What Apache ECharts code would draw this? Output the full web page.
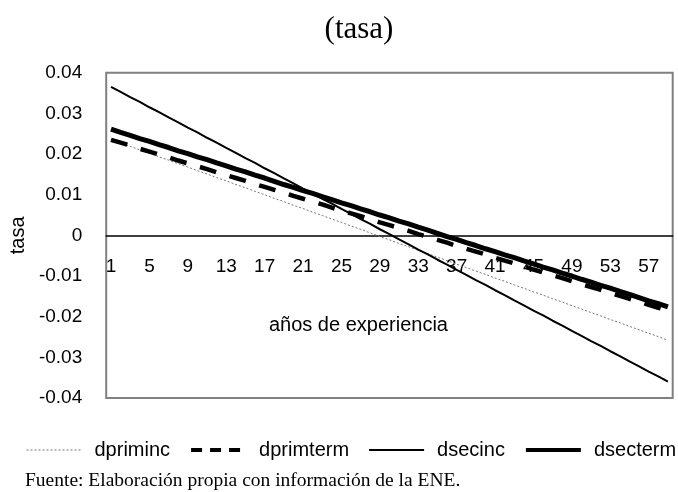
<!DOCTYPE html>
<html>
<head>
<meta charset="utf-8">
<script src="https://cdn.jsdelivr.net/npm/echarts@6/dist/echarts.min.js"></script>
<style>html,body{margin:0;padding:0;background:#fff}#c{width:678px;height:492px}</style>
</head>
<body>
<div id="c"></div>
<script>
const categories = [1,2,3,4,5,6,7,8,9,10,11,12,13,14,15,16,17,18,19,20,21,22,23,24,25,26,27,28,29,30,31,32,33,34,35,36,37,38,39,40,41,42,43,44,45,46,47,48,49,50,51,52,53,54,55,56,57,58,59];
const dpriminc = [0.0236,0.0227,0.0219,0.0210,0.0202,0.0193,0.0185,0.0176,0.0168,0.0159,0.0151,0.0142,0.0134,0.0125,0.0117,0.0108,0.0100,0.0091,0.0083,0.0074,0.0066,0.0057,0.0049,0.0040,0.0032,0.0023,0.0015,0.0006,-0.0003,-0.0011,-0.0020,-0.0028,-0.0037,-0.0045,-0.0054,-0.0062,-0.0071,-0.0079,-0.0088,-0.0096,-0.0105,-0.0113,-0.0122,-0.0130,-0.0139,-0.0147,-0.0156,-0.0164,-0.0173,-0.0181,-0.0190,-0.0198,-0.0207,-0.0215,-0.0224,-0.0232,-0.0241,-0.0249,-0.0258];
const dprimterm = [0.0235,0.0228,0.0221,0.0213,0.0206,0.0199,0.0192,0.0184,0.0177,0.0170,0.0163,0.0155,0.0148,0.0141,0.0134,0.0126,0.0119,0.0112,0.0105,0.0097,0.0090,0.0083,0.0076,0.0068,0.0061,0.0054,0.0047,0.0040,0.0032,0.0025,0.0018,0.0011,0.0003,-0.0004,-0.0011,-0.0018,-0.0026,-0.0033,-0.0040,-0.0047,-0.0055,-0.0062,-0.0069,-0.0076,-0.0084,-0.0091,-0.0098,-0.0105,-0.0113,-0.0120,-0.0127,-0.0134,-0.0142,-0.0149,-0.0156,-0.0163,-0.0171,-0.0178,-0.0185];
const dsecinc = [0.0365,0.0353,0.0340,0.0328,0.0315,0.0303,0.0290,0.0278,0.0265,0.0253,0.0240,0.0228,0.0215,0.0203,0.0190,0.0178,0.0165,0.0153,0.0140,0.0128,0.0115,0.0103,0.0090,0.0078,0.0065,0.0053,0.0040,0.0028,0.0015,0.0003,-0.0010,-0.0022,-0.0035,-0.0047,-0.0060,-0.0072,-0.0085,-0.0097,-0.0110,-0.0122,-0.0135,-0.0147,-0.0160,-0.0172,-0.0185,-0.0197,-0.0210,-0.0222,-0.0235,-0.0247,-0.0260,-0.0272,-0.0285,-0.0297,-0.0310,-0.0322,-0.0335,-0.0347,-0.0360];
const dsecterm = [0.0261,0.0253,0.0246,0.0238,0.0231,0.0223,0.0216,0.0208,0.0201,0.0193,0.0186,0.0178,0.0171,0.0163,0.0156,0.0148,0.0141,0.0133,0.0125,0.0118,0.0110,0.0103,0.0095,0.0088,0.0080,0.0073,0.0065,0.0058,0.0050,0.0043,0.0035,0.0028,0.0020,0.0013,0.0005,-0.0003,-0.0010,-0.0018,-0.0025,-0.0033,-0.0040,-0.0048,-0.0055,-0.0063,-0.0070,-0.0078,-0.0085,-0.0093,-0.0100,-0.0108,-0.0115,-0.0123,-0.0130,-0.0138,-0.0145,-0.0153,-0.0161,-0.0168,-0.0176];
const seriesNames = ['dpriminc','dprimterm','dsecinc','dsecterm'];
const titleText = '(tasa)';
const yAxisName = 'tasa';
const xAxisName = 'años de experiencia';
const sourceText = 'Fuente: Elaboración propia con información de la ENE.';

const SANS = 'Liberation Sans, Arial, sans-serif';
const SERIF = 'Liberation Serif, Times New Roman, serif';
const GRID_TOP = 72.7, GRID_BOTTOM = 94;
const GRID_H = 492 - GRID_TOP - GRID_BOTTOM;

const lineStyles = {
  dpriminc: {color: '#777', width: 1, type: [2, 2]},
  dprimterm: {color: '#000', width: 4.5, type: [17, 14]},
  dsecinc: {color: '#000', width: 2, type: 'solid'},
  dsecterm: {color: '#000', width: 5, type: 'solid'}
};
const legendLineStyles = {
  dpriminc: {color: '#777', width: 1, type: [2, 2]},
  dprimterm: {color: '#000', width: 4, type: [11, 8]},
  dsecinc: {color: '#000', width: 2, type: 'solid'},
  dsecterm: {color: '#000', width: 4, type: 'solid'}
};

const chart = echarts.init(document.getElementById('c'), null, {renderer: 'canvas'});
chart.setOption({
  animation: false,
  backgroundColor: '#fff',
  title: [
    {text: titleText, left: 354, top: 9, textAlign: 'center',
     textStyle: {fontFamily: SERIF, fontWeight: 'normal', fontSize: 31, color: '#000'}},
    {text: sourceText, left: 20, top: 466,
     textStyle: {fontFamily: SERIF, fontWeight: 'normal', fontSize: 19.5, color: '#000'}}
  ],
  legend: {
    left: 26, top: 440, padding: 0, itemWidth: 55, itemHeight: 14, itemGap: 19,
    width: 660,
    data: seriesNames.map(n => ({name: n, lineStyle: legendLineStyles[n]})),
    itemStyle: {opacity: 0},
    textStyle: {fontFamily: SANS, fontSize: 20, color: '#000', padding: [0, 0, 0, 8]}
  },
  grid: {left: 101.7, right: 5.3, top: GRID_TOP, bottom: GRID_BOTTOM, show: true,
         borderColor: '#808080', borderWidth: 2, backgroundColor: '#fff'},
  xAxis: {
    type: 'category', data: categories, boundaryGap: true,
    position: 'bottom', offset: -GRID_H / 2,
    name: xAxisName, nameLocation: 'middle', nameGap: 80,
    nameTextStyle: {fontFamily: SANS, fontSize: 20, color: '#000', padding: [0, 62, 0, 0]},
    axisLine: {onZero: false, lineStyle: {color: '#000', width: 1.5}},
    axisTick: {show: false},
    axisLabel: {interval: 3, margin: 22, fontFamily: SANS, fontSize: 19, color: '#000'},
    splitLine: {show: false}
  },
  yAxis: {
    type: 'value', min: -0.04, max: 0.04, interval: 0.01,
    name: yAxisName, nameLocation: 'middle', nameGap: 71,
    nameTextStyle: {fontFamily: SANS, fontSize: 20, color: '#000'},
    axisLine: {show: false}, axisTick: {show: false}, splitLine: {show: false},
    axisLabel: {margin: 24, fontFamily: SANS, fontSize: 19, color: '#000',
      formatter: v => (Math.abs(v) < 1e-9 ? '0' : (Math.round(v * 100) / 100).toFixed(2))}
  },
  series: [
    {name: 'dpriminc', type: 'line', data: dpriminc, symbol: 'none', z: 3,
     lineStyle: lineStyles.dpriminc, itemStyle: {color: '#777'}},
    {name: 'dprimterm', type: 'line', data: dprimterm, symbol: 'none', z: 4,
     lineStyle: lineStyles.dprimterm, itemStyle: {color: '#000'}},
    {name: 'dsecinc', type: 'line', data: dsecinc, symbol: 'none', z: 5,
     lineStyle: lineStyles.dsecinc, itemStyle: {color: '#000'}},
    {name: 'dsecterm', type: 'line', data: dsecterm, symbol: 'none', z: 6,
     lineStyle: lineStyles.dsecterm, itemStyle: {color: '#000'}}
  ]
});
</script>
</body>
</html>
